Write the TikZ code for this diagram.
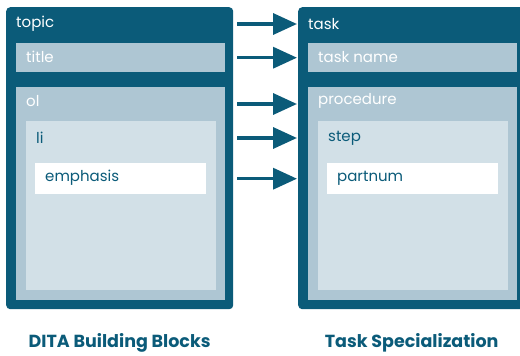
\documentclass[tikz,border=0pt]{standalone}
\usepackage{fontspec}
\setmainfont{Poppins}
\usepackage{xcolor}
\usetikzlibrary{arrows.meta, positioning}

\definecolor{ditadark}{RGB}{11,91,121}
\definecolor{ditamid}{RGB}{174,198,211}
\definecolor{ditalight}{RGB}{210,224,231}

\begin{document}
\begin{tikzpicture}[
        x=1pt, y=-1pt,
        outer/.style={rectangle, fill=ditadark, rounded corners=4pt, anchor=north west, inner sep=0pt, minimum width=227pt, minimum height=302pt},
        bar/.style={rectangle, fill=ditamid, anchor=north west, inner sep=0pt, minimum width=209pt},
        inner/.style={rectangle, fill=ditalight, anchor=north west, inner sep=0pt, minimum width=190pt, minimum height=169pt},
        leaf/.style={rectangle, fill=white, anchor=north west, inner sep=0pt, minimum width=171pt, minimum height=31pt},
        lbl/.style={anchor=west, inner sep=0pt, font=\fontsize{15}{17}\selectfont},
        caption/.style={font=\fontsize{17.5}{20}\selectfont\bfseries, text=ditadark},
        arrow/.style={line width=3.5pt, draw=ditadark, -{Triangle[length=24pt, width=21pt]}, shorten <=4pt, shorten >=1pt}
    ]
    \clip (0,0) rectangle (520,356);

    % DITA Building Blocks
    \node[outer] (topic) at (6,7) {};
    \node[bar, minimum height=29pt] (title) at (16,43) {};
    \node[bar, minimum height=213pt] (ol) at (16,87) {};
    \node[inner] (li) at (26,121) {};
    \node[leaf] (emphasis) at (35,163) {};
    \node[lbl, text=white] (topiclbl) at (16,24) {topic};
    \node[lbl, text=white] (titlelbl) at (26,57) {title};
    \node[lbl, text=white] (ollbl) at (26,101) {ol};
    \node[lbl, text=ditadark] (lilbl) at (36,138) {li};
    \node[lbl, text=ditadark] (emphasislbl) at (45,178) {emphasis};

    % Task Specialization
    \node[outer] (task) at (298,7) {};
    \node[bar, minimum height=29pt] (taskname) at (308,43) {};
    \node[bar, minimum height=213pt] (procedure) at (308,87) {};
    \node[inner] (step) at (318,121) {};
    \node[leaf] (partnum) at (327,163) {};
    \node[lbl, text=white] (tasklbl) at (308,24) {task};
    \node[lbl, text=white] (tasknamelbl) at (318,57) {task name};
    \node[lbl, text=white] (procedurelbl) at (318,101) {procedure};
    \node[lbl, text=ditadark] (steplbl) at (328,138) {step};
    \node[lbl, text=ditadark] (partnumlbl) at (337,178) {partnum};

    % Specialization arrows
    \draw[arrow] (topic.east |- topiclbl) -- (task.west |- tasklbl);
    \draw[arrow] (topic.east |- title) -- (task.west |- taskname);
    \draw[arrow] (topic.east |- 0,104) -- (task.west |- 0,104);
    \draw[arrow] (topic.east |- lilbl) -- (task.west |- steplbl);
    \draw[arrow] (topic.east |- emphasis) -- (task.west |- partnum);

    % Captions
    \node[caption] (leftcap) at (topic.south |- 0,343) {DITA Building Blocks};
    \node[caption] (rightcap) at (task.south |- 0,343) {Task Specialization};

\end{tikzpicture}
\end{document}
